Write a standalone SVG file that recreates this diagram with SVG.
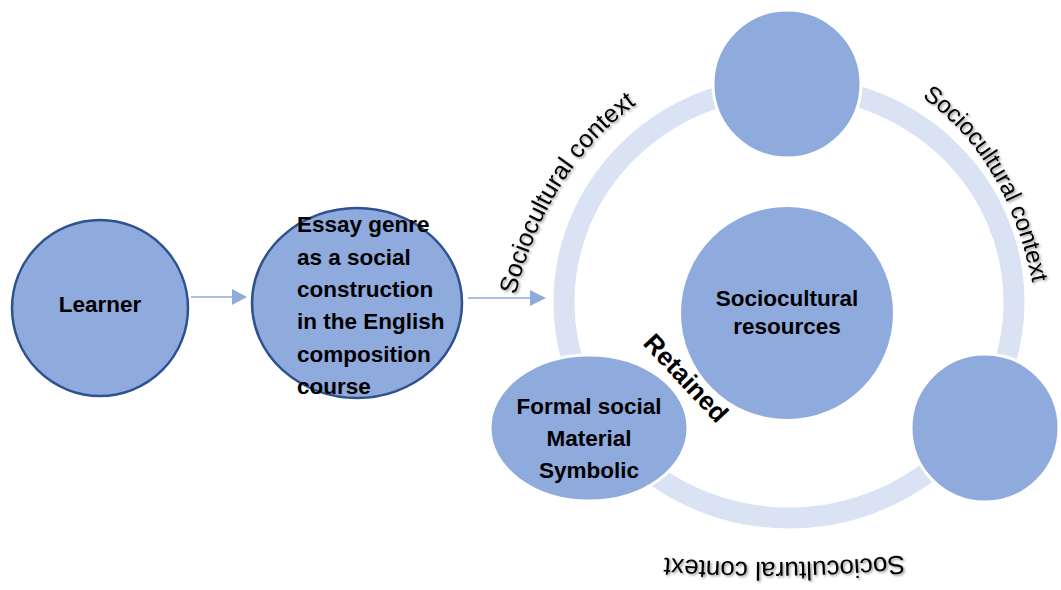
<svg xmlns="http://www.w3.org/2000/svg" width="1061" height="590" viewBox="0 0 1061 590">
  <style>
    .node { fill: #8FAADC; }
    .outlined { stroke: #2F528F; stroke-width: 2.5; }
    .white { stroke: #FFFFFF; stroke-width: 3; }
    .lbl { font-family: "Liberation Sans", Arial, sans-serif; font-weight: bold; font-size: 22.5px; fill: #000000; }
    .ctx { font-family: "Liberation Sans", Arial, sans-serif; fill: #000000; filter: url(#shadow); }
    .conn { stroke: #8FAADC; stroke-width: 1.5; fill: none; }
    .head { fill: #8FAADC; }
  </style>
  <defs>
    <filter id="shadow" x="-20%" y="-20%" width="140%" height="140%">
      <feDropShadow dx="1.5" dy="1.5" stdDeviation="1.3" flood-color="#000000" flood-opacity="0.4"/>
    </filter>
    <path id="pLeft" d="M 515 297 Q 548 165 642 100"/>
    <path id="pRight" d="M 922 97 Q 1010 160 1034 292"/>
    <path id="pBottom" d="M 905 555 Q 780 568 655 557"/>
  </defs>

  <rect width="1061" height="590" fill="#FFFFFF"/>

  <g id="ring">
    <ellipse cx="789" cy="302" rx="225" ry="216" fill="none" stroke="#DAE3F3" stroke-width="21"/>
  </g>

  <g id="learner">
    <circle class="node outlined" cx="100" cy="308" r="88"/>
    <text class="lbl" x="100" y="312" text-anchor="middle">Learner</text>
  </g>

  <g id="essay">
    <ellipse class="node outlined" cx="357" cy="303" rx="105" ry="95"/>
    <text class="lbl" x="297" y="232">Essay genre</text>
    <text class="lbl" x="297" y="264.5">as a social</text>
    <text class="lbl" x="297" y="297">construction</text>
    <text class="lbl" x="297" y="329">in the English</text>
    <text class="lbl" x="297" y="362">composition</text>
    <text class="lbl" x="297" y="394">course</text>
  </g>

  <g id="top-circle">
    <circle class="node white" cx="787" cy="84" r="74"/>
  </g>

  <g id="right-circle">
    <circle class="node white" cx="985" cy="428" r="74"/>
  </g>

  <g id="resources">
    <ellipse class="node white" cx="589" cy="428" rx="99" ry="73"/>
    <text class="lbl" x="589" y="414" text-anchor="middle">Formal social</text>
    <text class="lbl" x="589" y="446" text-anchor="middle">Material</text>
    <text class="lbl" x="589" y="478" text-anchor="middle">Symbolic</text>
  </g>

  <g id="center">
    <circle class="node" cx="787" cy="313" r="106"/>
    <text class="lbl" x="787" y="306" text-anchor="middle">Sociocultural</text>
    <text class="lbl" x="787" y="334" text-anchor="middle">resources</text>
  </g>

  <g id="retained">
    <text class="lbl" style="font-size:26px" transform="translate(686,378) rotate(47)" x="0" y="9" text-anchor="middle">Retained</text>
  </g>

  <g id="context-labels">
    <text class="ctx" style="font-size:25px"><textPath href="#pLeft" startOffset="2">Sociocultural context</textPath></text>
    <text class="ctx" style="font-size:24px"><textPath href="#pRight" startOffset="0">Sociocultural context</textPath></text>
    <text class="ctx" style="font-size:26px"><textPath href="#pBottom" startOffset="1">Sociocultural context</textPath></text>
  </g>

  <g id="connectors">
    <line class="conn" x1="191" y1="297" x2="233" y2="297"/>
    <polygon class="head" points="232,289 247,297 232,305"/>
    <line class="conn" x1="468" y1="298" x2="531" y2="298"/>
    <polygon class="head" points="530,290 546,298 530,306"/>
  </g>
</svg>
